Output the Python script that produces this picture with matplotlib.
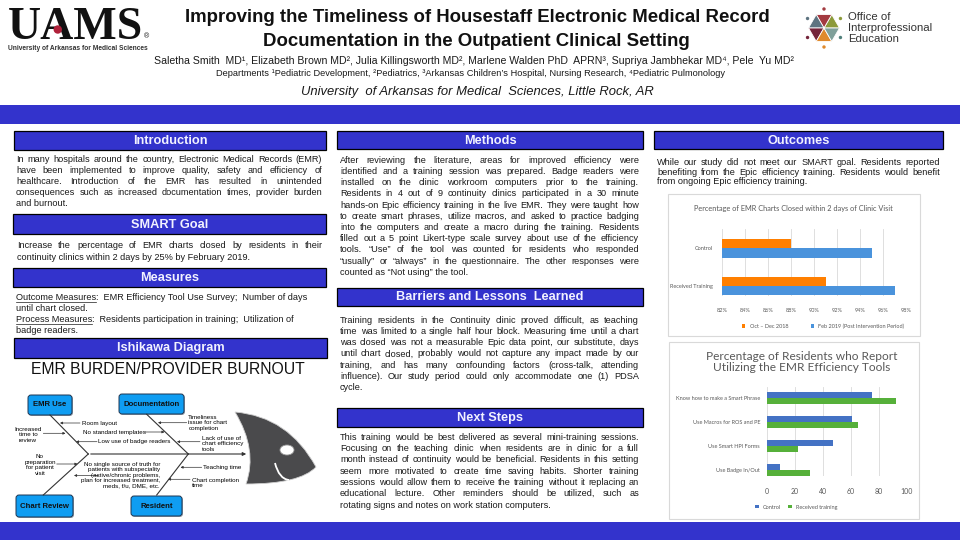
import matplotlib
matplotlib.use('Agg')
import matplotlib.pyplot as plt
import numpy as np
from matplotlib.patches import Rectangle, FancyBboxPatch, Ellipse, Circle, PathPatch, Polygon
from matplotlib.path import Path

plt.rcParams['font.family'] = ['Liberation Sans', 'DejaVu Sans']

# ---- chart data ----
emr_cats = ['Control', 'Received Training']
emr_oct_dec = [88, 91]
emr_feb = [95, 97]
emr_ticks = [82, 84, 86, 88, 90, 92, 94, 96, 98]

tool_cats = ['Know how to make a Smart Phrase', 'Use Macros for ROS and PE',
             'Use Smart HPI Forms', 'Use Badge In/Out']
tool_control = [75, 61, 47, 9]
tool_trained = [92, 65, 22, 31]
tool_ticks = [0, 20, 40, 60, 80, 100]

# ---- poster text ----
title_lines = ['Improving the Timeliness of Housestaff Electronic Medical Record',
               'Documentation in the Outpatient Clinical Setting']
authors = ('Saletha Smith  MD\u00b9, Elizabeth Brown MD\u00b2, Julia Killingsworth MD\u00b2, '
           'Marlene Walden PhD  APRN\u00b3, Supriya Jambhekar MD\u2074, Pele  Yu MD\u00b2')
departments = ('Departments \u00b9Pediatric Development, \u00b2Pediatrics, \u00b3Arkansas Children\u2019s '
               'Hospital, Nursing Research, \u2074Pediatric Pulmonology')
affiliation = 'University  of Arkansas for Medical  Sciences, Little Rock, AR'

intro = ['In many hospitals around the country, Electronic Medical Records (EMR)',
         'have been implemented to improve quality, safety and efficiency of',
         'healthcare. Introduction of the EMR has resulted in unintended',
         'consequences such as increased documentation times, provider burden',
         'and burnout.']
smart = ['Increase the percentage of EMR charts closed by residents in their',
         'continuity clinics within 2 days by 25% by February 2019.']
methods = ['After reviewing the literature, areas for improved efficiency were',
           'identified and a training session was prepared.  Badge readers were',
           'installed on the clinic workroom computers prior to the training.',
           'Residents in 4 out of 9 continuity clinics participated in a 30 minute',
           'hands-on Epic efficiency training in the live EMR.  They were taught how',
           'to create smart phrases, utilize macros, and asked to practice badging',
           'into the computers and create a macro during the training.  Residents',
           'filled out a 5 point Likert-type scale survey about use of the efficiency',
           'tools.  \u201cUse\u201d of the tool was counted for residents who responded',
           '\u201cusually\u201d or \u201calways\u201d in the questionnaire.  The other responses were',
           'counted as \u201cNot using\u201d the tool.']
barriers = ['Training residents in the Continuity clinic proved difficult, as teaching',
            'time was limited to a single half hour block. Measuring time until a chart',
            'was closed was not a measurable Epic data point, our substitute, days',
            'until chart closed, probably would not capture any impact made by our',
            'training, and has many confounding factors (cross-talk, attending',
            'influence).  Our study period could only accommodate one (1) PDSA',
            'cycle.']
next_steps = ['This training would be best delivered as several mini-training sessions.',
              'Focusing on the teaching clinic when residents are in clinic for a full',
              'month instead of continuity would be beneficial.  Residents in this setting',
              'seem more motivated to create time saving habits.   Shorter training',
              'sessions would allow them to receive the training without it replacing an',
              'educational lecture.   Other reminders should be utilized, such as',
              'rotating signs and notes on work station computers.']
outcomes = ['While our study did not meet our SMART goal.  Residents reported',
            'benefiting from the Epic efficiency training.  Residents would benefit',
            'from ongoing Epic efficiency training.']

BLUE = '#3333CC'
TXT = '#1a1a1a'
GRAY = '#595959'
BODY = 6.6
BASE = 2.8  # centre line -> baseline offset for body text, px

fig = plt.figure(figsize=(9.6, 5.4), dpi=100)
ax = fig.add_axes([0, 0, 1, 1])
ax.set_xlim(0, 960)
ax.set_ylim(540, 0)
ax.axis('off')
R = fig.canvas.get_renderer()


def rect(x0, y0, x1, y1):
    return [x0 / 960, 1 - y1 / 540, (x1 - x0) / 960, (y1 - y0) / 540]


def width(t):
    return t.get_window_extent(R).width


def measure(s, **kw):
    t = ax.text(0, 0, s, **kw)
    w = width(t)
    t.remove()
    return w


def body(x, y, s):
    return ax.text(x, y + BASE, s, fontsize=BODY, va='baseline', color=TXT)


def para(lines, x0, x1, y0, dy, justify=True):
    for i, line in enumerate(lines):
        y = y0 + i * dy
        words = line.split()
        if not justify or i == len(lines) - 1:
            body(x0, y, line)
            continue
        ts = [body(0, y, w) for w in words]
        ws = [width(t) for t in ts]
        gap = max((x1 - x0 - sum(ws)) / (len(words) - 1), 1.8)
        x = x0
        for t, w in zip(ts, ws):
            t.set_x(x)
            x += w + gap


def header(x0, y0, x1, y1, label):
    ax.add_patch(Rectangle((x0, y0), x1 - x0, y1 - y0, fc=BLUE, ec='black', lw=0.9))
    ax.text((x0 + x1) / 2, (y0 + y1) / 2 + 0.5, label, color='#f2f2ff', fontsize=9.2,
            fontweight='bold', ha='center', va='center')


# ---- bands ----
ax.add_patch(Rectangle((0, 105), 960, 19, fc=BLUE, ec='none'))
ax.add_patch(Rectangle((0, 522), 960, 18, fc=BLUE, ec='none'))

# ---- UAMS logo ----
logo_kw = dict(fontsize=33, family='Liberation Serif', fontweight='bold')
u = ax.text(8, 39, 'UAMS', color='#111111', va='baseline', **logo_kw)
wu = measure('U', **logo_kw)
wua = measure('UA', **logo_kw)
ax.add_patch(Circle((8 + (wu + wua) / 2, 29.5), 4.2, fc='#B0213A', ec='none', zorder=5))
ax.text(8 + width(u) + 1, 37, '\u00ae', fontsize=5, color='#111111', va='center')
ax.text(8, 49, 'University of Arkansas for Medical Sciences', fontsize=4.8,
        fontweight='bold', color='#333333', va='center')

# ---- title block ----
ax.text(477, 17, title_lines[0], fontsize=13.4, fontweight='bold', ha='center', va='center', color='#111111')
ax.text(476, 41, title_lines[1], fontsize=13.4, fontweight='bold', ha='center', va='center', color='#111111')
ax.text(474, 61, authors, fontsize=7.6, ha='center', va='center', color=TXT)
ax.text(471, 74, departments, fontsize=6.7, ha='center', va='center', color=TXT)
ax.text(477, 92, affiliation, fontsize=9.4, style='italic', ha='center', va='center', color=TXT)

# ---- OIPE logo ----
cx, cy, rr = 824, 28, 15.5
wedge_cols = ['#8C9A3A', '#A33A40', '#5D7380', '#74243A', '#E08A2C', '#7FA09A']
for k, col in enumerate(wedge_cols):
    a0, a1 = np.radians(60 * k), np.radians(60 * (k + 1))
    pts = [(cx, cy), (cx + rr * np.cos(a0), cy - rr * np.sin(a0)), (cx + rr * np.cos(a1), cy - rr * np.sin(a1))]
    ax.add_patch(Polygon(pts, closed=True, fc=col, ec='white', lw=0.6))
dot_cols = {90: '#A33A40', 150: '#5D7380', 210: '#74243A', 270: '#E08A2C', 330: '#4F7F7A', 30: '#8C9A3A'}
for ang, col in dot_cols.items():
    a = np.radians(ang)
    ax.add_patch(Circle((cx + 19 * np.cos(a), cy - 19 * np.sin(a)), 1.7, fc=col, ec='none'))
for yy, s in zip([17, 28, 39], ['Office of', 'Interprofessional', 'Education']):
    ax.text(848, yy, s, fontsize=8.2, color='#333333', va='center')

# ---- left column ----
header(14, 131, 326, 150, 'Introduction')
para(intro, 16, 322, 159, 11)
header(13, 214, 326, 234, 'SMART Goal')
para(smart, 17, 323, 245, 12)
header(13, 268, 326, 287, 'Measures')
meas = [('Outcome Measures', ':  EMR Efficiency Tool Use Survey;  Number of days'),
        (None, 'until chart closed.'),
        ('Process Measures', ':  Residents participation in training;  Utilization of'),
        (None, 'badge readers.')]
for i, (ul, rest) in enumerate(meas):
    y = 297 + i * 11.2
    x = 16
    if ul:
        w = width(body(x, y, ul))
        ax.plot([x, x + w], [y + 4.5, y + 4.5], color=TXT, lw=0.5)
        x += w
    body(x, y, rest)
header(14, 338, 327, 358, 'Ishikawa Diagram')
ax.text(168, 369, 'EMR BURDEN/PROVIDER BURNOUT', fontsize=11.3, ha='center', va='center', color='#111111')

# ---- Ishikawa diagram ----
BONE = '#333333'
for (x0, y0, x1, y1) in [(50, 415, 88.3, 454), (146.7, 414.3, 188.3, 454),
                         (43.3, 495, 88.3, 454), (156.7, 495, 188.3, 454)]:
    ax.plot([x0, x1], [y0, y1], color=BONE, lw=0.8)
ax.annotate('', xy=(249, 454), xytext=(88, 454),
            arrowprops=dict(arrowstyle='-|>', color=BONE, lw=0.8, mutation_scale=5))
for (cxb, cyb, wb, hb, lab) in [(50, 405, 44, 20, 'EMR Use'), (151.5, 404, 65, 20, 'Documentation'),
                                (44.5, 506, 57, 22, 'Chart Review'), (156.5, 506, 51, 20, 'Resident')]:
    ax.add_patch(FancyBboxPatch((cxb - wb / 2 + 1, cyb - hb / 2 + 1), wb, hb,
                                boxstyle='round,pad=0,rounding_size=3', fc='#9aa7b5', ec='none'))
    ax.add_patch(FancyBboxPatch((cxb - wb / 2, cyb - hb / 2), wb, hb,
                                boxstyle='round,pad=0,rounding_size=3', fc='#0F9DF2', ec='#1e3550', lw=0.7))
    ax.text(cxb, cyb, lab, fontsize=5.6, fontweight='bold', ha='center', va='center', color='#111111')

arrows = [((80, 423), (60, 423)), ((43.3, 433.3), (65.5, 433.3)), ((145, 432), (164.5, 432)),
          ((97, 441.7), (76, 441.7)), ((186.7, 422.7), (158, 422.7)), ((200, 441.7), (177, 441.7)),
          ((56.7, 464), (77.5, 464)), ((99, 475.5), (74, 475.5)), ((201.7, 467.3), (180.5, 467.3)),
          ((190, 479.3), (168, 479.3))]
for tail, head in arrows:
    ax.annotate('', xy=head, xytext=tail,
                arrowprops=dict(arrowstyle='-|>', color=BONE, lw=0.5, mutation_scale=3.5,
                                shrinkA=0, shrinkB=0))
FS = 4.5
ax.text(82, 423, 'Room layout', fontsize=FS, va='center')
ax.text(28, 435, 'Increased\ntime to\nreview', fontsize=FS, ha='center', va='center', linespacing=1.05)
ax.text(83, 432.3, 'No standard templates', fontsize=FS, va='center')
ax.text(98.3, 441.7, 'Low use of badge readers', fontsize=FS, va='center')
ax.text(188.3, 423, 'Timeliness\nissue for chart\ncompletion', fontsize=FS, va='center', linespacing=1.05)
ax.text(201.7, 444, 'Lack of use of\nchart efficiency\ntools', fontsize=FS, va='center', linespacing=1.1)
ax.text(40, 465, 'No\npreparation\nfor patient\nvisit', fontsize=FS, ha='center', va='center', linespacing=1.1)
ax.text(160, 475, 'No single source of truth for\npatients with subspeciality\n(active/chronic problems,\n'
        'plan for increased treatment,\nmeds, f/u, DME, etc.', fontsize=FS, ha='right', va='center',
        multialignment='right', linespacing=1.1)
ax.text(203.3, 467.3, 'Teaching time', fontsize=FS, va='center')
ax.text(191.7, 483, 'Chart completion\ntime', fontsize=FS, va='center', linespacing=1.1)

# fish head
head_path = Path([(235, 412), (288.5, 416.5), (316, 467), (300, 484), (246, 484), (258, 450), (235, 412),
                  (235, 412)],
                 [Path.MOVETO, Path.CURVE3, Path.CURVE3, Path.CURVE3, Path.CURVE3, Path.CURVE3, Path.CURVE3,
                  Path.CLOSEPOLY])
ax.add_patch(PathPatch(head_path, fc='#4a4a4c', ec='#d0d0d0', lw=0.6))
ax.add_patch(Ellipse((287, 450), 14, 10, fc='white', ec='#9a9a9a', lw=0.6))
gill = Path([(275, 463), (279, 479), (289, 480)], [Path.MOVETO, Path.CURVE3, Path.CURVE3])
ax.add_patch(PathPatch(gill, fc='none', ec='white', lw=1.3))

# ---- middle column ----
header(337, 131, 643, 149, 'Methods')
para(methods, 340, 639, 160, 11.2)
header(337, 288, 643, 306, 'Barriers and Lessons  Learned')
para(barriers, 340, 639, 320, 11.2)
header(337, 408, 643, 427, 'Next Steps')
para(next_steps, 340, 639, 437, 11.3)

# ---- right column ----
header(654, 131, 943, 149, 'Outcomes')
para(outcomes, 657, 940, 162, 9.8)

CF = 'Lato'
ax.add_patch(Rectangle((668, 194), 252, 142, fc='white', ec='#d9d9d9', lw=0.8))
ax.text(793, 208, 'Percentage of EMR Charts Closed within 2 days of Clinic Visit', fontsize=5.3,
        family=CF, color=GRAY, ha='center', va='center')
ax.add_patch(Rectangle((669, 342), 250, 177, fc='white', ec='#d9d9d9', lw=0.8))
ax.text(802, 362, 'Percentage of Residents who Report\nUtilizing the EMR Efficiency Tools', fontsize=8.6,
        family=CF, color=GRAY, ha='center', va='center', linespacing=1.05)

# chart 1
ax1 = fig.add_axes(rect(722, 229, 906, 296))
pos = np.arange(len(emr_cats))
h = 0.25
ax1.barh(pos - h / 2, emr_oct_dec, height=h, color='#FF7F00', label='Oct \u2013 Dec 2018')
ax1.barh(pos + h / 2, emr_feb, height=h, color='#4A93DC', label='Feb 2019 (Post Intervention Period)')
ax1.set_xlim(emr_ticks[0], emr_ticks[-1])
ax1.set_ylim(1.27, -0.52)
ax1.set_xticks(emr_ticks)
ax1.set_xticklabels([f'{t}%' for t in emr_ticks])
ax1.set_yticks(pos)
ax1.set_yticklabels(emr_cats)
ax1.set_axisbelow(True)
ax1.grid(axis='x', color='#d9d9d9', lw=0.6)
for s in ax1.spines.values():
    s.set_visible(False)
ax1.tick_params(axis='x', length=0, pad=9, labelsize=4, labelcolor=GRAY)
ax1.tick_params(axis='y', length=0, pad=6.5, labelsize=4, labelcolor=GRAY)
for t in ax1.get_xticklabels() + ax1.get_yticklabels():
    t.set_family(CF)
ax1.legend(loc='center', bbox_to_anchor=(0.55, -0.45), ncol=2, frameon=False,
           prop={'family': CF, 'size': 4}, handlelength=0.6, handleheight=0.6,
           columnspacing=4, labelcolor=GRAY)

# chart 2
ax2 = fig.add_axes(rect(767, 387, 907, 476))
pos2 = np.arange(len(tool_cats))
ax2.barh(pos2 - h / 2, tool_control, height=h, color='#4472C4', label='Control')
ax2.barh(pos2 + h / 2, tool_trained, height=h, color='#56B03A', label='Received training')
ax2.set_xlim(tool_ticks[0], tool_ticks[-1])
ax2.set_ylim(3.27, -0.46)
ax2.set_xticks(tool_ticks)
ax2.set_yticks(pos2)
ax2.set_yticklabels(tool_cats)
ax2.set_axisbelow(True)
ax2.grid(axis='x', color='#d9d9d9', lw=0.6)
for s in ax2.spines.values():
    s.set_visible(False)
ax2.tick_params(axis='x', length=0, pad=9, labelsize=5, labelcolor=GRAY)
ax2.tick_params(axis='y', length=0, pad=5, labelsize=4, labelcolor=GRAY)
for t in ax2.get_xticklabels() + ax2.get_yticklabels():
    t.set_family(CF)
ax2.legend(loc='center', bbox_to_anchor=(0.21, -0.35), ncol=2, frameon=False,
           prop={'family': CF, 'size': 4}, handlelength=0.6, handleheight=0.6,
           columnspacing=1.3, labelcolor=GRAY)

fig.savefig('out.png', dpi=100)
